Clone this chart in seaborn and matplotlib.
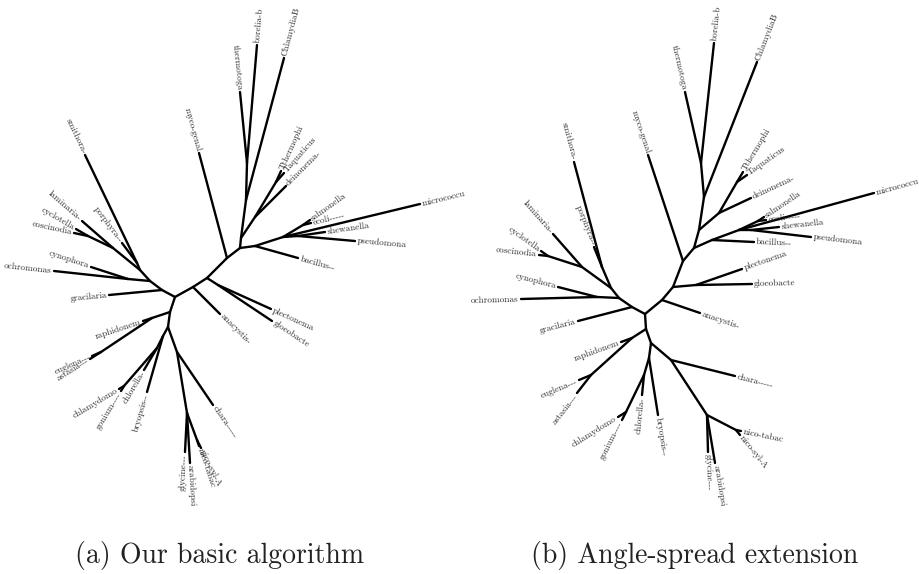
import numpy as np
import pandas as pd
import matplotlib
matplotlib.use('Agg')
import matplotlib.pyplot as plt
import seaborn as sns

# tree: node name, parent index, leaf label ('' for inner nodes)
node_name = ['A', 'B', 'C', 'D', 'E', 'Dj', 'T0', 'T1', 'thermotoga', 'borelia-b',
             'ChlamydiaB', 'Dn', 'Tq', 'Tthermophi', 'Taquaticus', 'deinonema-', 'myco-genal', 'R1', 'bacillus--', 'R2',
             'Se', 'salmonella', 'ecoli-----', 'micrococcu', 'R3', 'shewanella', 'pseudomona', 'anacystis-', 'Pg', 'plectonema',
             'gloeobacte', 'G', 'gracilaria', 'J', 'K', 'ochromonas', 'cynophora', 'L', 'Sp', 'smithora-',
             'porphyra--', 'Lc', 'laminaria-', 'Cc', 'cyclotella', 'coscinodia', 'H1', 'Eu', 'raphidonem', 'Ea',
             'euglena---', 'astasia---', 'H2', 'G1', 'bryopsis--', 'G2', 'chlorella-', 'Cg', 'chlamydomo', 'gonium----',
             'Ch', 'chara-----', 'Pl', 'glycine---', 'arabidopsi', 'Nc', 'nico-tabac', 'nico-syl-A']
node_parent = [-1, 0, 1, 2, 3, 4, 5, 6, 7, 7,
               6, 5, 11, 12, 12, 11, 3, 4, 17, 17,
               19, 20, 20, 19, 19, 24, 24, 1, 2, 28,
               28, 0, 31, 31, 33, 34, 34, 33, 37, 38,
               38, 37, 41, 41, 43, 43, 0, 46, 47, 47,
               49, 49, 46, 52, 53, 53, 55, 55, 57, 57,
               52, 60, 60, 62, 62, 62, 65, 65]
leaf = [n if len(n) > 2 else '' for n in node_name]

# (a) basic algorithm, node positions
a_x = [175, 193, 207, 227, 240, 241, 246, 247, 240, 257,
       284, 255, 276, 281, 284, 286, 199, 255, 298, 283,
       303, 310, 311, 420, 298, 325, 355, 220, 218, 271,
       272, 162, 109, 150, 128, 54, 91, 140, 137, 85,
       122, 113, 82, 88, 76, 74, 170, 152, 143, 101,
       92, 90, 168, 163, 147, 157, 144, 124, 119, 121,
       177, 213, 187, 185, 190, 197, 199, 201]
a_y = [297, 287, 278, 258, 248, 238, 200, 163, 92, 45,
       58, 217, 182, 171, 173, 186, 153, 246, 258, 237,
       225, 220, 223, 204, 236, 232, 241, 314, 285, 309,
       321, 290, 295, 281, 279, 271, 267, 270, 263, 155,
       243, 248, 221, 236, 229, 233, 312, 318, 321, 352,
       356, 359, 327, 336, 392, 348, 370, 386, 389, 391,
       352, 405, 413, 452, 463, 440, 446, 448]

# (b) angle-spread extension
b_x = [645, 662, 673, 683, 694, 699, 704, 701, 685, 714,
       757, 719, 737, 743, 747, 751, 648, 712, 754, 739,
       758, 764, 766, 874, 751, 779, 811, 700, 696, 742,
       752, 632, 578, 619, 597, 521, 558, 611, 602, 574,
       594, 582, 553, 548, 541, 539, 646, 632, 621, 591,
       579, 577, 651, 649, 658, 644, 642, 626, 618, 622,
       671, 735, 707, 708, 715, 736, 741, 740]
b_y = [314, 300, 287, 261, 248, 230, 197, 163, 92, 43,
       62, 213, 182, 172, 175, 198, 155, 240, 242, 230,
       221, 217, 220, 193, 230, 227, 237, 313, 285, 269,
       284, 307, 321, 298, 297, 299, 287, 288, 267, 162,
       247, 267, 234, 256, 251, 255, 329, 338, 342, 375,
       380, 393, 343, 358, 415, 375, 395, 412, 417, 420,
       360, 376, 415, 452, 463, 430, 431, 435]

captions = ['(a) Our basic algorithm', '(b) Angle-spread extension']
caption_x = [219.5, 695]
caption_y = 555

sns.set_theme(style='white')
plt.rcParams['font.family'] = ['cmr10', 'DejaVu Serif']
plt.rcParams['axes.formatter.use_mathtext'] = True

fig = plt.figure(figsize=(9.19, 5.74), dpi=100)
axes = [fig.add_axes([0, 0, 0.5, 1]), fig.add_axes([0.5, 0, 0.5, 1])]
limits = [(0, 459.5), (459.5, 919)]

for ax, xs, ys, lim, cap, cx in zip(axes, [a_x, b_x], [a_y, b_y], limits, captions, caption_x):
    rows = []
    for i, p in enumerate(node_parent):
        if p < 0:
            continue
        rows.append({'edge': i, 'x': xs[p], 'y': ys[p]})
        rows.append({'edge': i, 'x': xs[i], 'y': ys[i]})
    edges = pd.DataFrame(rows)
    sns.lineplot(data=edges, x='x', y='y', units='edge', estimator=None, sort=False,
                 color='black', lw=1.7, legend=False, ax=ax)

    for i, lab in enumerate(leaf):
        if not lab:
            continue
        p = node_parent[i]
        ang = np.degrees(np.arctan2(-(ys[i] - ys[p]), xs[i] - xs[p]))
        dx, dy = np.cos(np.radians(ang)) * 1.5, np.sin(np.radians(ang)) * 1.5
        if -90 < ang <= 90:
            rot, ha = ang, 'left'
        else:
            rot, ha = ang + 180, 'right'
        ax.annotate(lab, (xs[i], ys[i]), xytext=(dx, dy), textcoords='offset points',
                    rotation=rot, rotation_mode='anchor', ha=ha, va='center',
                    fontsize=6.6, color='#2a2a2a')

    ax.text(cx, caption_y, cap, ha='center', va='center', fontsize=20, color='#222222')
    ax.set_xlim(*lim)
    ax.set_ylim(574, 0)
    ax.set_axis_off()

fig.savefig('out.png', dpi=100)
